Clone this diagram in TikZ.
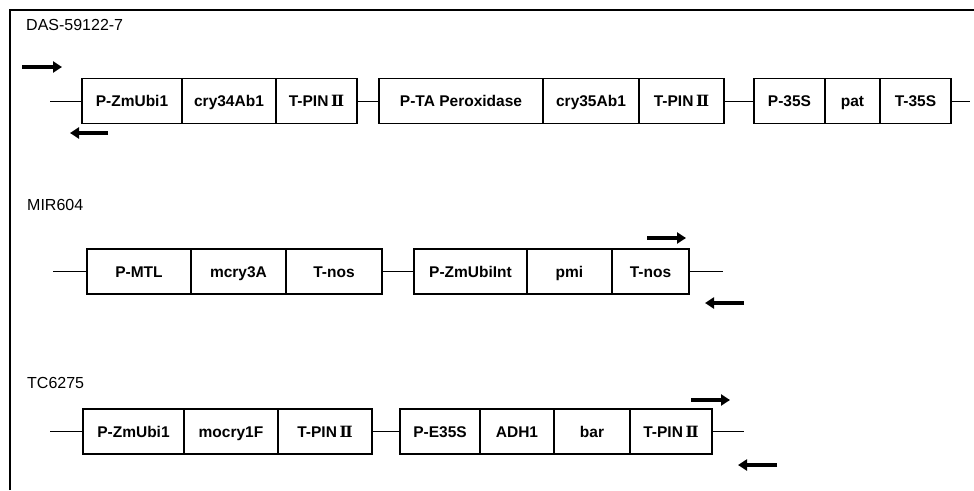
\documentclass[tikz,border=0pt]{standalone}
\usepackage{fontspec}
\setmainfont{Liberation Sans}
\newfontfamily\romfont{DejaVu Serif}
\usetikzlibrary{positioning, arrows.meta}

\newcommand{\pinII}{T-PIN\,{\romfont Ⅱ}}

\tikzset{
    part/.style = {draw, line width=1.1pt, minimum height=45pt, inner sep=0pt, outer sep=0pt,
                   text height=12.5pt, text depth=1.5pt,
                   font=\fontsize{15.5}{18}\selectfont\bfseries},
    link/.style = {line width=0.9pt},
    primer/.style = {line width=4pt, -{Triangle[length=9pt, width=11pt]}},
    title/.style = {anchor=west, inner sep=0pt, font=\fontsize{16}{19}\selectfont}
}

\begin{document}
\begin{tikzpicture}[x=1pt, y=-1pt]
    \useasboundingbox (0,0) rectangle (974,490);

    %frame
    \draw[line width=1.3pt] (10,490) -- (10,10) -- (974,10);

    %DAS-59122-7
    \node[title] (das) at (26,25) {DAS-59122-7};
    \coordinate (s1) at (50,101);
    \node[part, minimum width=100pt, anchor=west] (a1) at (82,101) {P-ZmUbi1};
    \node[part, minimum width=94pt, right=0pt of a1] (a2) {cry34Ab1};
    \node[part, minimum width=81pt, right=0pt of a2] (a3) {\pinII};
    \node[part, minimum width=164pt, right=22pt of a3] (b1) {P-TA Peroxidase};
    \node[part, minimum width=96pt, right=0pt of b1] (b2) {cry35Ab1};
    \node[part, minimum width=85pt, right=0pt of b2] (b3) {\pinII};
    \node[part, minimum width=71pt, right=30pt of b3] (c1) {P-35S};
    \node[part, minimum width=55pt, right=0pt of c1] (c2) {pat};
    \node[part, minimum width=71pt, right=0pt of c2] (c3) {T-35S};
    \coordinate (e1) at (970,101);
    \draw[link] (s1) -- (a1);
    \draw[link] (a3) -- (b1);
    \draw[link] (b3) -- (c1);
    \draw[link] (c3) -- (e1);
    \draw[primer] (22,67) -- (62,67);
    \draw[primer] (108,133) -- (70,133);

    %MIR604
    \node[title] (mir) at (27,205) {MIR604};
    \coordinate (s2) at (53,271.5);
    \node[part, minimum width=104pt, anchor=west] (m1) at (87,271.5) {P-MTL};
    \node[part, minimum width=95pt, right=0pt of m1] (m2) {mcry3A};
    \node[part, minimum width=96pt, right=0pt of m2] (m3) {T-nos};
    \node[part, minimum width=113pt, right=32pt of m3] (n1) {P-ZmUbiInt};
    \node[part, minimum width=85pt, right=0pt of n1] (n2) {pmi};
    \node[part, minimum width=77pt, right=0pt of n2] (n3) {T-nos};
    \coordinate (e2) at (723,271.5);
    \draw[link] (s2) -- (m1);
    \draw[link] (m3) -- (n1);
    \draw[link] (n3) -- (e2);
    \draw[primer] (647,238) -- (686,238);
    \draw[primer] (744,303) -- (705,303);

    %TC6275
    \node[title] (tc) at (27,383) {TC6275};
    \coordinate (s3) at (50,431.5);
    \node[part, minimum width=101pt, anchor=west] (t1) at (83,431.5) {P-ZmUbi1};
    \node[part, minimum width=94pt, right=0pt of t1] (t2) {mocry1F};
    \node[part, minimum width=94pt, right=0pt of t2] (t3) {\pinII};
    \node[part, minimum width=80pt, right=28pt of t3] (u1) {P-E35S};
    \node[part, minimum width=74pt, right=0pt of u1] (u2) {ADH1};
    \node[part, minimum width=76pt, right=0pt of u2] (u3) {bar};
    \node[part, minimum width=82pt, right=0pt of u3] (u4) {\pinII};
    \coordinate (e3) at (744,431.5);
    \draw[link] (s3) -- (t1);
    \draw[link] (t3) -- (u1);
    \draw[link] (u4) -- (e3);
    \draw[primer] (691,400) -- (730,400);
    \draw[primer] (777,465) -- (738,465);
\end{tikzpicture}
\end{document}
